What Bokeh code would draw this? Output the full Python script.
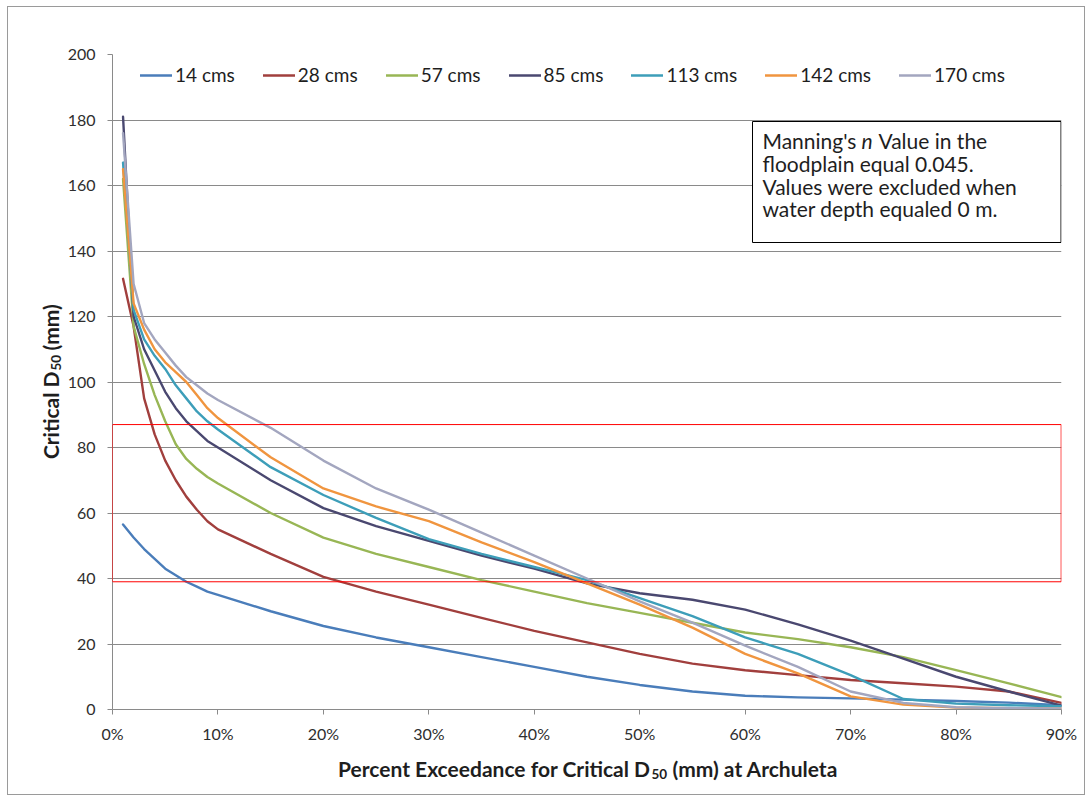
import math
from bokeh.plotting import figure
from bokeh.models import (Range1d, Legend, LegendItem, BoxAnnotation, Label,
                          FixedTicker, PrintfTickFormatter)
from bokeh.embed import file_html
from bokeh.resources import INLINE

# ---------------- data ----------------
exceedance_pct = [1, 2, 3, 4, 5, 6, 7, 8, 9, 10, 15, 20, 25, 30, 35, 40, 45, 50,
                  55, 60, 65, 70, 75, 80, 85, 90]

d50_14cms = [56.5, 52.5, 49, 46, 43, 41, 39, 37.5, 36, 35, 30, 25.5, 22, 19, 16,
             13, 10, 7.5, 5.5, 4.2, 3.7, 3.4, 3.0, 2.6, 2.1, 1.3]
d50_28cms = [131.5, 117, 95, 84, 76, 70, 65, 61, 57.5, 55, 47.5, 40.5, 36, 32,
             28, 24, 20.5, 17, 14, 12, 10.5, 9, 8, 7, 5.5, 2]
d50_57cms = [162, 117, 105.5, 96, 88, 81, 76.5, 73.5, 71, 69, 60, 52.5, 47.5,
             43.5, 39.5, 36, 32.5, 29.5, 26.5, 23.5, 21.5, 19, 16, 12, 8, 3.8]
d50_85cms = [181, 120, 110, 103.5, 97, 92, 88, 85, 82, 80, 70, 61.5, 56, 51.5,
             47, 43, 38.5, 35.5, 33.5, 30.5, 26, 21, 15.5, 10, 5.5, 1.2]
d50_113cms = [167, 122, 113, 108, 104, 99, 95, 91, 88, 85.5, 74, 65.5, 58.5, 52,
              47.5, 43.5, 39.5, 34, 28.5, 22, 17, 10.5, 3.2, 1.8, 1.3, 1.0]
d50_142cms = [165, 124, 116, 110, 106, 103, 100, 96, 92, 89, 77, 67.5, 62, 57.5,
              51, 45, 38.5, 32, 25, 17, 11, 4, 1.5, 0.6, 0.4, 0.3]
d50_170cms = [176, 130, 118, 113, 109, 105, 101.5, 99, 96.5, 94.5, 86, 76, 67.5,
              61, 54, 47, 40, 33, 26.5, 19.5, 13, 5.5, 2, 0.7, 0.4, 0.3]

series_names = ["14 cms", "28 cms", "57 cms", "85 cms", "113 cms", "142 cms", "170 cms"]
series_values = [d50_14cms, d50_28cms, d50_57cms, d50_85cms, d50_113cms,
                 d50_142cms, d50_170cms]

x_ticks = [0, 10, 20, 30, 40, 50, 60, 70, 80, 90]
y_ticks = [0, 20, 40, 60, 80, 100, 120, 140, 160, 180, 200]

highlight_low, highlight_high = 39, 87

note_lines = ["floodplain equal 0.045.", "Values were excluded when",
              "water depth equaled 0 m."]

# ---------------- styling ----------------
colors = ["#4A7DBA", "#A13F3D", "#98B655", "#4A4870", "#3D9EB9", "#F0953F", "#A3A6BF"]
FONT = "Lato"
TEXT = "#1e1e1e"
GRID = "#8a8a8a"

W, H = 1078, 789
p = figure(width=W, height=H, output_backend="svg", toolbar_location=None,
           x_range=Range1d(0, 90), y_range=Range1d(0, 200),
           min_border_left=104, min_border_right=25,
           min_border_top=47, min_border_bottom=87)
p.styles = {"margin-left": "7px", "margin-top": "6px", "border": "1px solid #9a9a9a"}
p.outline_line_color = None
p.background_fill_color = "white"
p.border_fill_color = "white"

p.xgrid.visible = False
p.ygrid.ticker = FixedTicker(ticks=y_ticks)
p.ygrid.grid_line_color = GRID
p.ygrid.grid_line_width = 1

p.xaxis.ticker = FixedTicker(ticks=x_ticks)
p.yaxis.ticker = FixedTicker(ticks=y_ticks)
p.xaxis.formatter = PrintfTickFormatter(format="%d%%")
for ax in (p.xaxis, p.yaxis):
    ax.axis_line_color = GRID
    ax.major_tick_line_color = GRID
    ax.minor_tick_line_color = None
    ax.major_tick_in = 0
    ax.major_tick_out = 5
    ax.major_label_text_font = FONT
    ax.major_label_text_font_size = "16px"
    ax.major_label_text_color = "#2e2e2e"
p.xaxis.major_label_standoff = 9
p.yaxis.major_label_standoff = 12

# helpers: page pixel -> frame-relative screen units (frame spans x 112..1061, y 54..709)
def sx(px):
    return px - 112

def sy(py):
    return 709 - py

# page pixel -> canvas units (canvas origin at page (8, 7), top-left)
def cx(px):
    return px - 8

def cy(py):
    return py - 7

# highlight rectangle
p.add_layout(BoxAnnotation(left=0, right=89.97, bottom=highlight_low, top=highlight_high,
                           fill_alpha=0, line_color="#FF0000", line_alpha=1,
                           line_width=1, level="annotation"))

items = []
for name, vals, col in zip(series_names, series_values, colors):
    r = p.line(exceedance_pct, vals, line_color=col, line_width=2.4,
               line_join="round", line_cap="round")
    items.append(LegendItem(label=name, renderers=[r]))

legend = Legend(items=items, orientation="horizontal", location=(28, 623),
                margin=0, padding=0, spacing=28, glyph_width=32, glyph_height=20,
                label_height=20, label_standoff=3,
                label_text_font=FONT, label_text_font_size="19px",
                label_text_color=TEXT, background_fill_alpha=0,
                border_line_color=None)
p.add_layout(legend)

# note box
p.add_layout(BoxAnnotation(left=sx(752), right=sx(1060.5), top=sy(121), bottom=sy(242),
                           left_units="screen", right_units="screen",
                           top_units="screen", bottom_units="screen",
                           fill_color="white", fill_alpha=1, line_color="black",
                           line_alpha=1, line_width=1))
note_kw = dict(text_font=FONT, text_font_size="21px", text_color=TEXT,
               text_baseline="middle", text_align="left",
               x_units="screen", y_units="screen")
p.add_layout(Label(x=sx(762), y=sy(140), text="Manning's", **note_kw))
p.add_layout(Label(x=sx(861), y=sy(140), text="n", text_font_style="italic", **note_kw))
p.add_layout(Label(x=sx(878), y=sy(140), text="Value in the", **note_kw))
for i, line in enumerate(note_lines):
    p.add_layout(Label(x=sx(762), y=sy(163 + 22.6 * i), text=line, **note_kw))

# axis titles with subscripts: placed in side panels (so they are not clipped to the frame)
tkw = dict(text_font=FONT, text_font_style="bold", text_color=TEXT,
           text_baseline="middle", x_units="canvas", y_units="canvas")
# x title
p.add_layout(Label(x=cx(649), y=cy(767), text="Percent Exceedance for Critical D",
                   text_align="right", text_font_size="21px", **tkw), "below")
p.add_layout(Label(x=cx(671), y=cy(767), text="(mm)  at Archuleta", text_align="left",
                   text_font_size="21px", **tkw), "below")
p.add_layout(Label(x=cx(650), y=cy(772), text="50", text_align="left",
                   text_font_size="13.5px", **tkw), "above")
# y title (rotated)
p.add_layout(Label(x=cx(54), y=cy(369), text="50", angle=math.pi / 2,
                   text_align="left", text_font_size="13.5px", **tkw), "above")
p.add_layout(Label(x=cx(48.5), y=cy(370), text="Critical D", angle=math.pi / 2,
                   text_align="right", text_font_size="21px", **tkw), "left")
p.add_layout(Label(x=cx(48.5), y=cy(349), text="(mm)", angle=math.pi / 2,
                   text_align="left", text_font_size="21px", **tkw), "left")

open("out.html", "w").write(file_html(p, INLINE))
